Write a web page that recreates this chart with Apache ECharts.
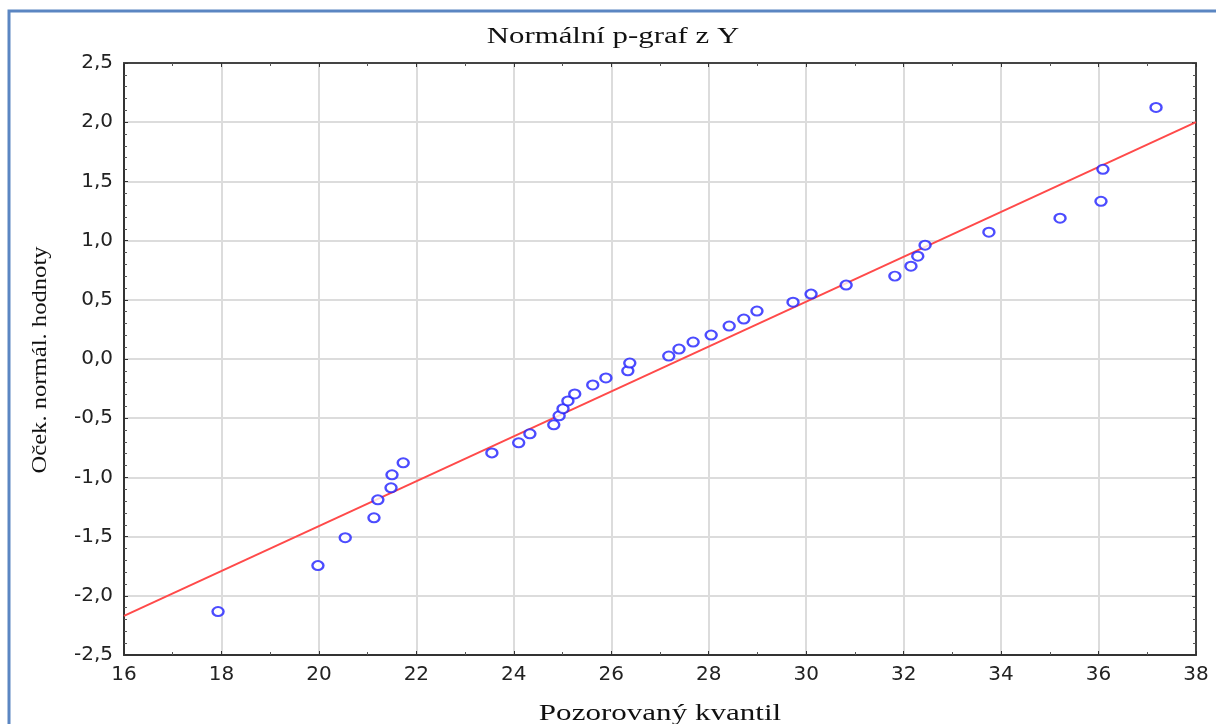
<!DOCTYPE html>
<html>
<head>
<meta charset="utf-8">
<script src="https://cdn.jsdelivr.net/npm/echarts@6/dist/echarts.min.js"></script>
<style>
html,body{margin:0;padding:0;background:#fff;}
#chart{width:1216px;height:724px;}
</style>
</head>
<body>
<div id="chart"></div>
<script>
// Data
const observedQuantile = [17.93, 19.98, 20.54, 21.13, 21.21, 21.48, 21.50, 21.73, 23.55, 24.10,
  24.33, 24.82, 24.93, 25.01, 25.11, 25.25, 25.62, 25.89, 26.34, 26.38,
  27.18, 27.39, 27.68, 28.05, 28.42, 28.72, 28.99, 29.73, 30.10, 30.82,
  31.82, 32.15, 32.29, 32.44, 33.75, 35.21, 36.05, 36.09, 37.18];
const expectedNormal = [-2.133, -1.745, -1.509, -1.341, -1.189, -1.088, -0.978, -0.877, -0.793, -0.708,
  -0.632, -0.556, -0.480, -0.420, -0.354, -0.295, -0.219, -0.160, -0.100, -0.034,
  0.025, 0.084, 0.143, 0.202, 0.278, 0.337, 0.405, 0.480, 0.548, 0.624,
  0.700, 0.784, 0.868, 0.961, 1.071, 1.189, 1.332, 1.602, 2.125];
const fitX = [16, 38];
const fitY = [-2.17, 2.0];
const titleText = 'Normální p-graf z Y';
const xName = 'Pozorovaný kvantil';
const yName = 'Oček. normál. hodnoty';

const points = observedQuantile.map((x, i) => [x, expectedNormal[i]]);
const fitLine = fitX.map((x, i) => [x, fitY[i]]);
const fmtY = v => v.toFixed(1).replace('.', ',');

const chart = echarts.init(document.getElementById('chart'));
const serif = {fontFamily: 'Liberation Serif', fontSize: 23, fill: '#111'};
chart.setOption({
  animation: false,
  backgroundColor: '#fff',
  graphic: [{
    type: 'polyline',
    shape: {points: [[9, 724], [9, 11], [1216, 11]]},
    style: {stroke: '#5b86c2', lineWidth: 3, fill: null}
  }, {
    type: 'text', x: 613, y: 37, scaleX: 1.34,
    style: Object.assign({text: titleText, align: 'center', verticalAlign: 'middle'}, serif)
  }, {
    type: 'text', x: 660, y: 714, scaleX: 1.35,
    style: Object.assign({text: xName, align: 'center', verticalAlign: 'middle'}, serif)
  }, {
    type: 'text', x: 40, y: 360, rotation: Math.PI / 2, scaleX: 1.12,
    style: Object.assign({text: yName, align: 'center', verticalAlign: 'middle'}, serif, {fontSize: 22})
  }],
  grid: {left: 124, top: 63, width: 1072, height: 592, outerBoundsMode: 'none', containLabel: false},
  xAxis: [{
    type: 'value', min: 16, max: 38, interval: 2,
    axisLine: {show: true, onZero: false, lineStyle: {color: '#333', width: 2}},
    axisTick: {show: true, inside: true, length: 4, lineStyle: {color: '#333'}},
    minorTick: {show: true, splitNumber: 2, length: 3, lineStyle: {color: '#555'}},
    axisLabel: {fontFamily: 'DejaVu Sans', fontSize: 20, color: '#222', margin: 10},
    splitLine: {show: true, lineStyle: {color: '#dcdcdc', width: 2}}
  }, {
    type: 'value', min: 16, max: 38, interval: 2, position: 'top',
    axisLine: {show: true, onZero: false, lineStyle: {color: '#444', width: 2}},
    axisTick: {show: true, inside: true, length: 4, lineStyle: {color: '#333'}},
    minorTick: {show: true, splitNumber: 2, length: 3, lineStyle: {color: '#555'}},
    axisLabel: {show: false}, splitLine: {show: false}
  }],
  yAxis: [{
    type: 'value', min: -2.5, max: 2.5, interval: 0.5,
    axisLine: {show: true, onZero: false, lineStyle: {color: '#333', width: 2}},
    axisTick: {show: true, inside: true, length: 4, lineStyle: {color: '#333'}},
    minorTick: {show: true, splitNumber: 5, length: 3, lineStyle: {color: '#555'}},
    axisLabel: {formatter: fmtY, fontFamily: 'DejaVu Sans', fontSize: 20, color: '#222', margin: 11},
    splitLine: {show: true, lineStyle: {color: '#dcdcdc', width: 2}}
  }, {
    type: 'value', min: -2.5, max: 2.5, interval: 0.5, position: 'right',
    axisLine: {show: true, onZero: false, lineStyle: {color: '#444', width: 2}},
    axisTick: {show: true, inside: true, length: 4, lineStyle: {color: '#333'}},
    minorTick: {show: true, splitNumber: 5, length: 3, lineStyle: {color: '#555'}},
    axisLabel: {show: false}, splitLine: {show: false}
  }],
  series: [{
    type: 'line', data: fitLine, showSymbol: false, symbol: 'none',
    lineStyle: {color: '#ff4a4a', width: 2}, z: 3
  }, {
    type: 'scatter', data: points, symbol: 'circle', symbolSize: [11, 9],
    itemStyle: {color: '#fff', borderColor: '#1f1fff', borderWidth: 2.2}, z: 4
  }]
});
</script>
</body>
</html>
